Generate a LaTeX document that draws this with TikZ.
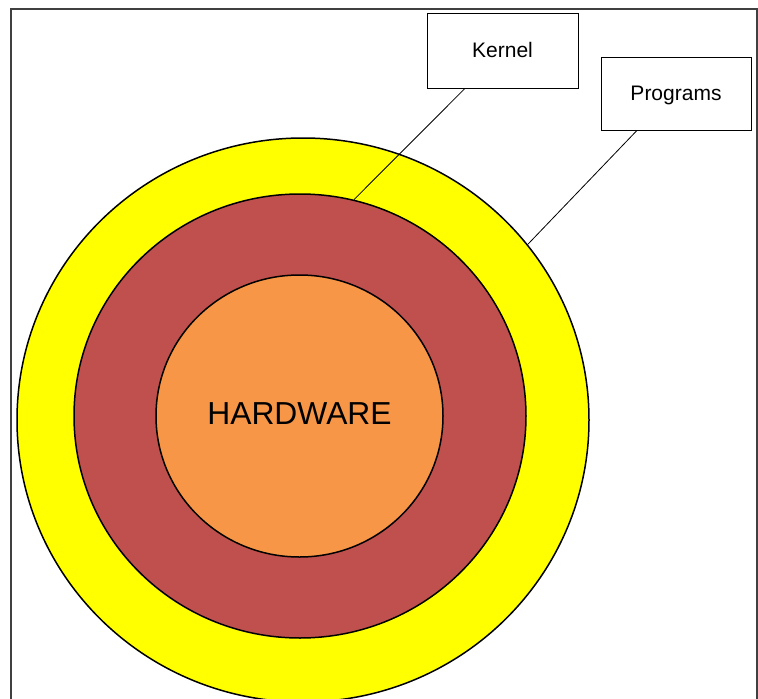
\documentclass[tikz,border=0pt]{standalone}
\usepackage{fontspec}
\setmainfont{Liberation Sans}
\usetikzlibrary{shapes.geometric}
\definecolor{ringyellow}{HTML}{FFFF00}
\definecolor{ringred}{HTML}{C0504D}
\definecolor{ringorange}{HTML}{F79646}
\definecolor{framegray}{HTML}{404040}
\tikzset{
  ring/.style={ellipse, draw=black, line width=1.5pt, inner sep=0pt},
  labelbox/.style={draw=black, line width=0.8pt, fill=white, inner sep=0pt,
    font=\fontsize{21}{25}\selectfont, text height=1.3em, text depth=0pt},
  leader/.style={draw=black, line width=0.8pt}
}
\begin{document}
\begin{tikzpicture}[x=1pt,y=1pt]
\useasboundingbox (0,0) rectangle (758,-699);
\fill[white] (0,0) rectangle (758,-699);
\draw[framegray, line width=1.4pt] (11,-699) -- (11,-9) -- (757,-9) -- (757,-699);
\node[ring, fill=ringyellow, minimum width=572pt, minimum height=564pt] (outer) at (303,-420) {};
\node[ring, fill=ringred, minimum width=452pt, minimum height=444pt] (mid) at (300,-416) {};
\node[ring, fill=ringorange, minimum width=287pt, minimum height=282pt] (inner) at (299.5,-416) {};
\node[inner sep=0pt, font=\fontsize{31.8}{36}\selectfont] (hw) at (299.5,-414) {HARDWARE};
\node[labelbox, minimum width=151pt, minimum height=75pt] (kernel) at (502.5,-50.5) {Kernel};
\node[labelbox, minimum width=150pt, minimum height=73pt] (programs) at (676,-93.5) {Programs};
\draw[leader] ([xshift=-37.5pt]kernel.south) -- (mid.76.6);
\draw[leader] ([xshift=-39pt]programs.south) -- (outer.38.5);
\end{tikzpicture}
\end{document}
